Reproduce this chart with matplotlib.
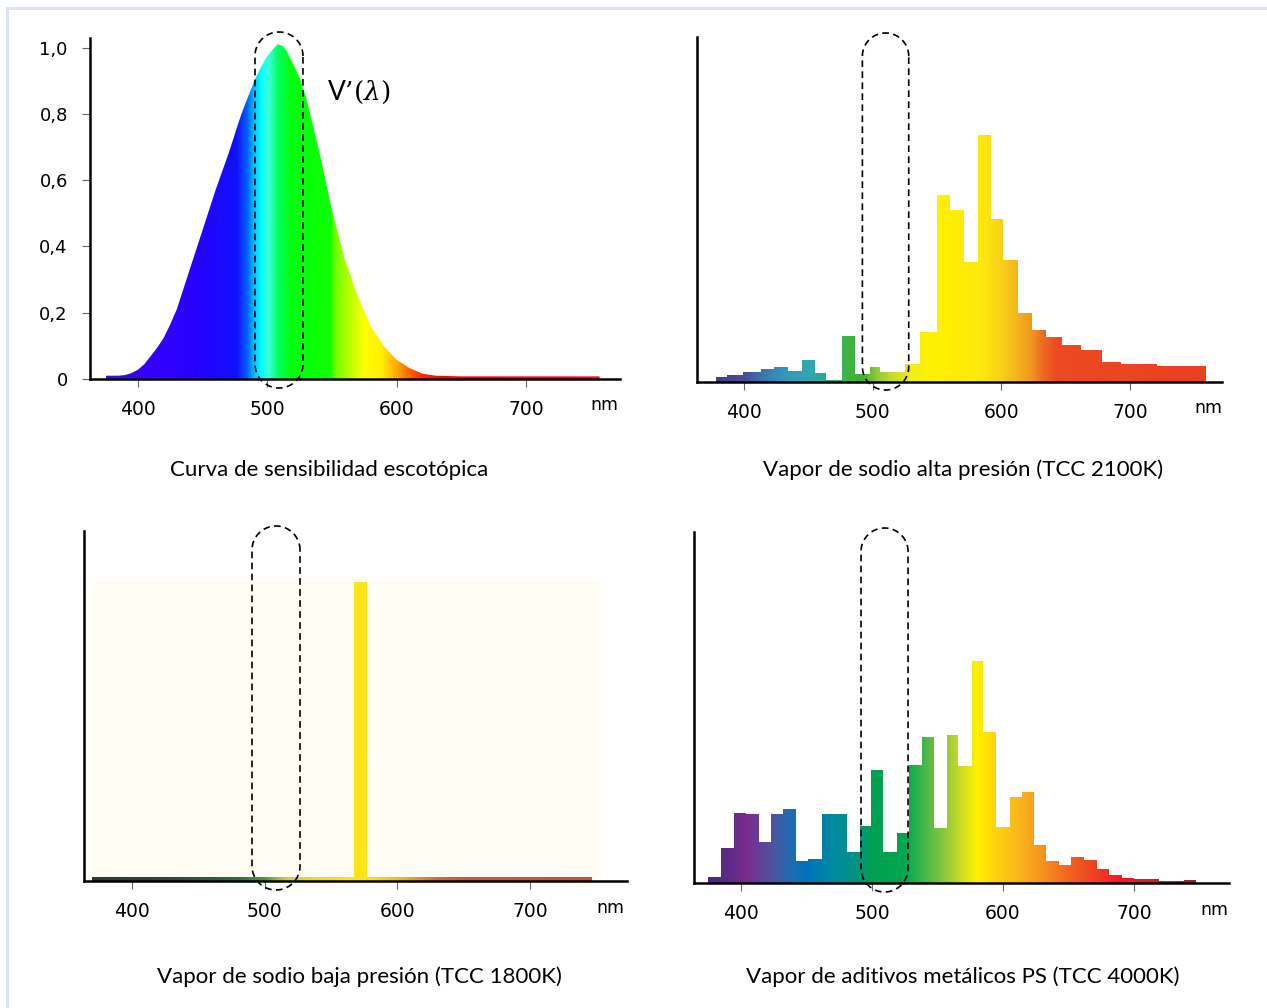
import numpy as np
import matplotlib
matplotlib.use("Agg")
import matplotlib.pyplot as plt
from matplotlib.colors import to_rgb
from matplotlib.patches import Polygon, Rectangle, PathPatch
from matplotlib.path import Path
from matplotlib.transforms import IdentityTransform

W, H = 1267, 1008

# --- data -----------------------------------------------------------------
# scotopic sensitivity curve V'(lambda)
scot_nm = [375, 385, 390, 395, 400, 405, 410, 415, 420, 425, 430, 440, 450, 460,
           470, 480, 490, 495, 500, 505, 508, 512, 515, 520, 525, 530, 535, 540,
           545, 550, 560, 570, 580, 590, 600, 610, 620, 630, 650, 700, 757]
scot_v = [0.010, 0.010, 0.012, 0.018, 0.028, 0.045, 0.070, 0.095, 0.125, 0.165,
          0.21, 0.33, 0.45, 0.57, 0.68, 0.80, 0.90, 0.94, 0.975, 0.998, 1.01,
          1.005, 0.99, 0.95, 0.91, 0.85, 0.77, 0.69, 0.60, 0.51, 0.36, 0.25,
          0.16, 0.10, 0.058, 0.033, 0.016, 0.010, 0.008, 0.008, 0.008]
scot_ticks = [0, 0.2, 0.4, 0.6, 0.8, 1.0]
scot_ticklabels = ["0", "0,2", "0,4", "0,6", "0,8", "1,0"]

# high pressure sodium (relative to highest bar)
hps_edges = [378, 387, 399, 413, 423, 434, 445, 455, 464, 476, 486, 498, 506,
             525, 537, 550, 560, 571, 582, 592, 601, 613, 624, 635, 647, 662,
             678, 693, 721, 759]
hps_values = [0.019, 0.028, 0.040, 0.053, 0.061, 0.046, 0.088, 0.036, 0.009,
              0.187, 0.032, 0.062, 0.039, 0.073, 0.202, 0.756, 0.694, 0.484,
              1.0, 0.660, 0.495, 0.279, 0.212, 0.182, 0.148, 0.128, 0.081,
              0.073, 0.063]

# low pressure sodium
lps_edges = [370, 567, 577, 747]
lps_values = [0.013, 1.0, 0.013]

# metal halide
mh_edges = [375, 385, 395, 404, 414, 423, 432, 442, 451, 462, 471, 481, 491,
            499, 508.5, 519, 528, 538, 547, 557, 566, 576.5, 585, 595, 605.5,
            614.5, 623.5, 633, 643, 652, 662, 671.5, 681, 690.5, 700, 719, 729,
            738, 747.5]
mh_values = [0.025, 0.156, 0.315, 0.309, 0.184, 0.310, 0.331, 0.097, 0.106,
             0.309, 0.312, 0.141, 0.258, 0.507, 0.139, 0.223, 0.531, 0.657,
             0.247, 0.664, 0.526, 1.0, 0.678, 0.250, 0.388, 0.408, 0.169, 0.099,
             0.081, 0.115, 0.102, 0.063, 0.034, 0.024, 0.016, 0.010, 0.007,
             0.013]

x_ticks = [400, 500, 600, 700]
titles = ["Curva de sensibilidad escotópica",
          "Vapor de sodio alta presión (TCC 2100K)",
          "Vapor de sodio baja presión (TCC 1800K)",
          "Vapor de aditivos metálicos PS (TCC 4000K)"]

# --- colour stops (wavelength, colour) ------------------------------------
scot_colors = [(375, "#2b1ed8"), (400, "#3600ff"), (445, "#2800ff"),
               (476, "#1010ff"), (484, "#0060ff"), (490, "#00c8ff"),
               (495, "#00ffff"), (501, "#40ffd8"), (508, "#00ff60"),
               (518, "#00ff10"), (549, "#10ff00"), (552, "#70ff00"),
               (562, "#b0ff00"), (575, "#ffff00"), (588, "#fff000"),
               (600, "#ffa800"), (610, "#ff6000"), (620, "#ff2800"),
               (635, "#ff0000"), (757, "#ff0030")]
hps_colors = [(378, "#4a3c8c"), (400, "#474c9c"), (415, "#3a78b0"),
              (430, "#3396bb"), (450, "#30a8b0"), (462, "#2aa898"),
              (478, "#3cb54a"), (492, "#40b030"), (502, "#8cc83c"),
              (515, "#c8dc28"), (530, "#f0ee14"), (545, "#fff200"),
              (585, "#fde80c"), (600, "#f8d018"), (612, "#f5b41e"),
              (622, "#f09a20"), (632, "#ee6a22"), (642, "#ec4a22"),
              (759, "#ea4020")]
lps_colors = [(370, "#2d3838"), (440, "#2d4a45"), (480, "#2f6d40"),
              (500, "#4a9a3a"), (515, "#c8d030"), (530, "#eed820"),
              (567, "#ffe419"), (577, "#ffe419"), (600, "#eec020"),
              (630, "#d86a30"), (650, "#c85838"), (747, "#cc5040")]
mh_colors = [(375, "#4b2a80"), (390, "#5b2a86"), (405, "#7b2d8e"),
             (425, "#4b55a0"), (440, "#1a6eb5"), (450, "#0072bc"),
             (470, "#008aa0"), (490, "#009580"), (500, "#00a050"),
             (525, "#00a650"), (535, "#2eb14a"), (555, "#8cc63e"),
             (570, "#d4e021"), (580, "#fff200"), (595, "#fdd20f"),
             (615, "#fbb11f"), (630, "#f7941d"), (650, "#f26522"),
             (690, "#ed1c24"), (720, "#c0262d"), (748, "#8b2a2e")]

plt.rcParams["font.family"] = "DejaVu Sans"
fig = plt.figure(figsize=(W / 100, H / 100), dpi=100)


def px_axes(x0, y0, x1, y1):
    return fig.add_axes([x0 / W, 1 - y1 / H, (x1 - x0) / W, (y1 - y0) / H])


def gradient(ax, stops, x0, x1, ytop, clip):
    xs = np.linspace(x0, x1, 1000)
    sw = [s[0] for s in stops]
    rgb = np.array([to_rgb(c) for _, c in stops])
    img = np.stack([np.interp(xs, sw, rgb[:, i]) for i in range(3)], axis=-1)
    im = ax.imshow(img[None, :, :], extent=(x0, x1, 0, ytop), aspect="auto",
                   interpolation="bilinear", zorder=2)
    im.set_clip_path(clip)


def style_axes(ax, xlim, ylim):
    ax.set_xlim(*xlim)
    ax.set_ylim(*ylim)
    for s in ("top", "right"):
        ax.spines[s].set_visible(False)
    for s in ("left", "bottom"):
        ax.spines[s].set_linewidth(1.8)
        ax.spines[s].set_zorder(6)
    ax.set_xticks(x_ticks)
    ax.tick_params(axis="x", length=6, width=0.8, color="#666666",
                   labelsize=13.5, pad=9)
    ax.set_facecolor("none")


def capsule(ax, nm0, nm1, top_px, bot_px):
    T = ax.transData
    xa, ya = T.transform((nm0, 0))
    xb, _ = T.transform((nm1, 0))
    r = (xb - xa) / 2
    cx = (xa + xb) / 2
    ytop = ya + top_px
    ybot = ya - bot_px
    th = np.linspace(0, np.pi, 40)
    top = np.column_stack([cx + r * np.cos(th), ytop - r + r * np.sin(th)])
    bot = np.column_stack([cx - r * np.cos(th), ybot + r - r * np.sin(th)])
    pts = np.vstack([top, bot, top[:1]])
    p = PathPatch(Path(pts), transform=IdentityTransform(), fill=False,
                  ec="black", lw=1.2, ls=(0, (4, 2.6)), zorder=10)
    fig.add_artist(p)


def fig_text(x, y, s, **kw):
    fig.text(x / W, 1 - y / H, s, **kw)


# panel 1: scotopic curve
ax1 = px_axes(90, 38, 620, 379)
verts = np.column_stack([[scot_nm[0]] + scot_nm + [scot_nm[-1]],
                         [0] + scot_v + [0]])
poly = Polygon(verts, closed=True, fc="none", ec="none")
ax1.add_patch(poly)
gradient(ax1, scot_colors, scot_nm[0], scot_nm[-1], 1.02, poly)
style_axes(ax1, (362.9, 772.8), (0, 1.029))
ax1.set_yticks(scot_ticks)
ax1.set_yticklabels(scot_ticklabels)
ax1.tick_params(axis="y", length=6, width=0.8, color="#666666",
                labelsize=13, pad=10)

# panel 2: high pressure sodium
ax2 = px_axes(697, 37, 1222, 382)
st2 = ax2.stairs(hps_values, hps_edges, fill=True, color="none")
gradient(ax2, hps_colors, hps_edges[0], hps_edges[-1], 1.01, st2)
style_axes(ax2, (363.5, 771.4), (0, 1.395))
ax2.set_yticks([])

# panel 3: low pressure sodium
ax3 = px_axes(84, 531, 627, 881)
ax3.add_patch(Rectangle((370, 0), 753 - 370, max(lps_values),
                        fc="#fffdf3", ec="none", zorder=1))
st3 = ax3.stairs(lps_values, lps_edges, fill=True, color="none")
gradient(ax3, lps_colors, lps_edges[0], lps_edges[-1], 1.01, st3)
style_axes(ax3, (363.8, 773.0), (0, 1.17))
ax3.set_yticks([])

# panel 4: metal halide
ax4 = px_axes(694, 532, 1229, 883)
st4 = ax4.stairs(mh_values, mh_edges, fill=True, color="none")
gradient(ax4, mh_colors, mh_edges[0], mh_edges[-1], 1.01, st4)
style_axes(ax4, (364.1, 772.5), (0, 1.579))
ax4.set_yticks([])

# dashed capsules around 490-527 nm
capsule(ax1, 490.5, 527.6, 347, 9)
capsule(ax2, 492.0, 528.0, 349, 8)
capsule(ax3, 490.4, 526.6, 355, 9)
capsule(ax4, 491.6, 527.5, 355, 9)

# labels
for (x, y) in [(604, 405), (1208, 408), (610, 908), (1214, 910)]:
    fig_text(x, y, "nm", fontsize=12.5, ha="center", va="center")
for (x, y), t in zip([(329, 470), (963, 470), (359, 977), (963, 977)], titles):
    fig_text(x, y, t, fontsize=16, ha="center", va="center", family="Lato")
fig_text(327, 92, r"V’$(\lambda)$", fontsize=19, ha="left", va="center",
         family="Lato", math_fontfamily="dejavuserif")

# light frame around the figure
fig.add_artist(Rectangle((6 / W, 0), 3 / W, 1 - 7 / H, transform=fig.transFigure,
                         fc="#dae3f3", ec="none"))
fig.add_artist(Rectangle((6 / W, 1 - 10 / H), 1 - 6 / W, 3 / H,
                         transform=fig.transFigure, fc="#dae3f3", ec="none"))

fig.savefig("out.png", dpi=100)
